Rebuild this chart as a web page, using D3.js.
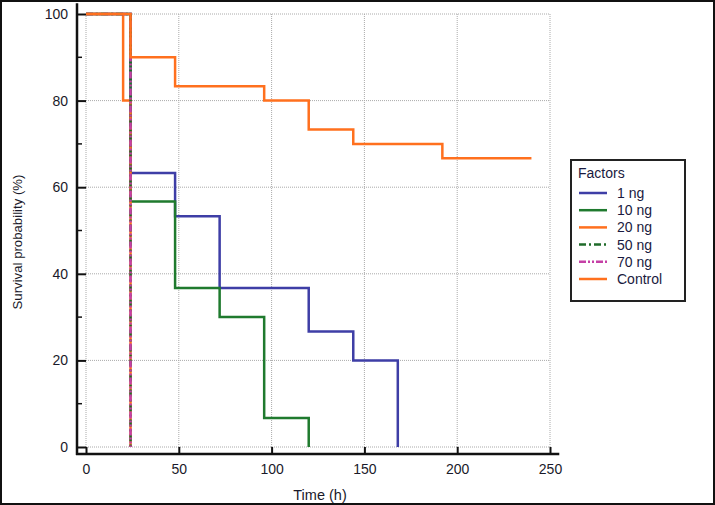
<!DOCTYPE html>
<html>
<head>
<meta charset="utf-8">
<script src="https://cdn.jsdelivr.net/npm/d3@7/dist/d3.min.js"></script>
<style>
  body { margin: 0; background: #fff; }
  text { font-family: "Liberation Sans", Arial, sans-serif; }
</style>
</head>
<body>
<script>
'use strict';

// survival steps: time (h) and survival (%) at each change
var groups = ["1 ng", "10 ng", "20 ng", "50 ng", "70 ng", "Control"];
var times1 = [0, 24, 48, 72, 120, 144, 168, 168];
var surv1 = [100, 63.3, 53.3, 36.7, 26.7, 20, 0, 0];
var times10 = [0, 24, 48, 72, 96, 120, 120];
var surv10 = [100, 56.7, 36.7, 30, 6.7, 0, 0];
var times20 = [0, 20, 24, 24];
var surv20 = [100, 80, 0, 0];
var times50 = [0, 24, 24];
var surv50 = [100, 0, 0];
var times70 = [0, 24, 24];
var surv70 = [100, 0, 0];
var timesCtl = [0, 24, 48, 96, 120, 144, 192, 240];
var survCtl = [100, 90, 83.3, 80, 73.3, 70, 66.7, 66.7];
var colors = ["#3e3ea6", "#1f7a2e", "#ff701e", "#1f6b2a", "#c540a6", "#ff701e"];
var dashes = [null, null, null, "7,3,2,3", "7,2,2,2,2,2", null];
var xTicks = [0, 50, 100, 150, 200, 250];
var yTicks = [0, 20, 40, 60, 80, 100];
var yMinor = [10, 30, 50, 70, 90];

var series = [
  [times1, surv1], [times10, surv10], [times20, surv20],
  [times50, surv50], [times70, surv70], [timesCtl, survCtl]
].map(function (s, i) {
  return {
    name: groups[i],
    color: colors[i],
    dash: dashes[i],
    pts: s[0].map(function (t, j) { return [t, s[1][j]]; })
  };
});

var w = 715, h = 505;

var svg = d3.select("body").append("svg")
    .attr("width", w)
    .attr("height", h);

svg.append("rect")
    .attr("x", 1).attr("y", 1)
    .attr("width", w - 2).attr("height", h - 2)
    .attr("fill", "#fff")
    .attr("stroke", "#111")
    .attr("stroke-width", 2);

var x = d3.scaleLinear().domain([0, 250]).range([86, 550]);
var y = d3.scaleLinear().domain([0, 100]).range([447, 14]);

// grid
svg.append("g").selectAll("line")
    .data(xTicks)
    .enter().append("line")
    .attr("x1", x).attr("x2", x)
    .attr("y1", y(0)).attr("y2", y(100))
    .attr("stroke", "#aaa")
    .attr("stroke-dasharray", "1,1");

svg.append("g").selectAll("line")
    .data(yTicks)
    .enter().append("line")
    .attr("x1", x(0)).attr("x2", x(250))
    .attr("y1", y).attr("y2", y)
    .attr("stroke", "#aaa")
    .attr("stroke-dasharray", "1,1");

// axes
var xAxisY = y(0) + 7, yAxisX = x(0) - 9;

var xAxis = svg.append("g")
    .attr("transform", "translate(0," + xAxisY + ")")
    .call(d3.axisBottom(x).tickValues(xTicks).tickSize(-7).tickPadding(10));
xAxis.select(".domain").remove();

var yAxis = svg.append("g")
    .attr("transform", "translate(" + yAxisX + ",0)")
    .call(d3.axisLeft(y).tickValues(yTicks).tickSize(-9).tickPadding(9));
yAxis.select(".domain").remove();

svg.append("g")
    .attr("transform", "translate(" + yAxisX + ",0)")
    .selectAll("line")
    .data(yMinor)
    .enter().append("line")
    .attr("x1", 0).attr("x2", 5)
    .attr("y1", y).attr("y2", y)
    .attr("stroke", "#111")
    .attr("stroke-width", 1.5);

[xAxis, yAxis].forEach(function (a) {
  a.selectAll(".tick line").attr("stroke", "#111").attr("stroke-width", 2);
  a.selectAll(".tick text")
      .attr("fill", "#1a1a2a")
      .style("font-size", "14px")
      .style("font-family", "'Liberation Sans', Arial, sans-serif");
});

svg.append("line")
    .attr("x1", yAxisX - 1).attr("x2", x(255))
    .attr("y1", xAxisY).attr("y2", xAxisY)
    .attr("stroke", "#111").attr("stroke-width", 2.5);

svg.append("line")
    .attr("x1", yAxisX).attr("x2", yAxisX)
    .attr("y1", xAxisY + 1).attr("y2", y(102.5))
    .attr("stroke", "#111").attr("stroke-width", 2.5);

// titles
svg.append("text")
    .attr("x", 320)
    .attr("y", 500)
    .attr("text-anchor", "middle")
    .attr("fill", "#1a1a2a")
    .style("font-size", "14.5px")
    .text("Time (h)");

svg.append("text")
    .attr("transform", "translate(22,242)rotate(-90)")
    .attr("text-anchor", "middle")
    .attr("fill", "#1a1a2a")
    .style("font-size", "13.2px")
    .text("Survival probability (%)");

// curves
var line = d3.line()
    .x(function (d) { return x(d[0]); })
    .y(function (d) { return y(d[1]); })
    .curve(d3.curveStepAfter);

svg.append("g").selectAll("path")
    .data(series)
    .enter().append("path")
    .attr("d", function (d) { return line(d.pts); })
    .attr("fill", "none")
    .attr("stroke", function (d) { return d.color; })
    .attr("stroke-width", 2.5)
    .attr("stroke-dasharray", function (d) { return d.dash; });

// legend
var lg = svg.append("g").attr("transform", "translate(571,160)");

lg.append("rect")
    .attr("width", 114).attr("height", 141)
    .attr("fill", "#fff")
    .attr("stroke", "#222")
    .attr("stroke-width", 2);

lg.append("text")
    .attr("x", 7).attr("y", 18)
    .attr("fill", "#1a1a40")
    .style("font-size", "14px")
    .text("Factors");

var item = lg.selectAll(".item")
    .data(series)
    .enter().append("g")
    .attr("class", "item")
    .attr("transform", function (d, i) { return "translate(0," + (33 + i * 17.2) + ")"; });

item.append("line")
    .attr("x1", 8).attr("x2", 36)
    .attr("stroke", function (d) { return d.color; })
    .attr("stroke-width", 2.5)
    .attr("stroke-dasharray", function (d) { return d.dash; });

item.append("text")
    .attr("x", 46).attr("y", 5)
    .attr("fill", "#1a1a40")
    .style("font-size", "14px")
    .text(function (d) { return d.name; });
</script>
</body>
</html>
